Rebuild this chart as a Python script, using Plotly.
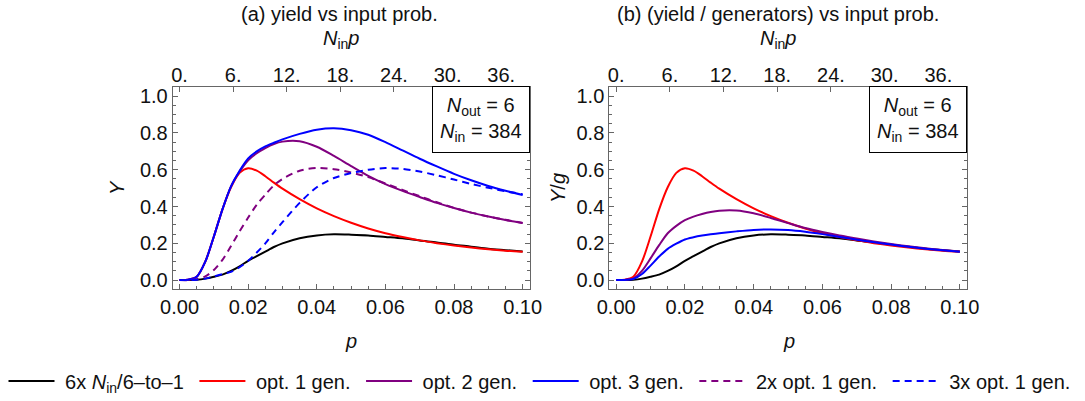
import plotly.graph_objects as go

# ---------------- data ----------------
N_IN = 384
p_vals = [0, 0.0025, 0.005, 0.0075, 0.01, 0.0125, 0.015, 0.0175, 0.02, 0.0225,
          0.025, 0.0275, 0.03, 0.035, 0.04, 0.045, 0.05, 0.055, 0.06, 0.065,
          0.07, 0.075, 0.08, 0.085, 0.09, 0.095, 0.1]

# panel (a): yield Y
y_6x = [0, 0, 0.002, 0.008, 0.018, 0.03, 0.05, 0.075, 0.105, 0.13, 0.155, 0.18, 0.2,
        0.228, 0.243, 0.249, 0.247, 0.243, 0.235, 0.227, 0.215, 0.205, 0.192, 0.182,
        0.171, 0.163, 0.155]
y_opt1 = [0, 0.002, 0.018, 0.10, 0.237, 0.385, 0.505, 0.583, 0.608, 0.595, 0.565, 0.53,
          0.497, 0.44, 0.39, 0.348, 0.312, 0.281, 0.255, 0.234, 0.216, 0.201, 0.188,
          0.177, 0.168, 0.16, 0.154]
y_opt2 = [0, 0.002, 0.018, 0.10, 0.237, 0.385, 0.51, 0.59, 0.652, 0.69, 0.718, 0.74,
          0.753, 0.755, 0.725, 0.675, 0.62, 0.567, 0.522, 0.485, 0.452, 0.42, 0.392,
          0.367, 0.346, 0.327, 0.311]
y_opt3 = [0, 0.002, 0.018, 0.10, 0.237, 0.385, 0.51, 0.595, 0.662, 0.70, 0.727, 0.747,
          0.765, 0.795, 0.818, 0.826, 0.815, 0.79, 0.75, 0.705, 0.66, 0.618, 0.578,
          0.543, 0.512, 0.486, 0.463]
y_2x1 = [0, 0, 0.005, 0.02, 0.055, 0.11, 0.185, 0.265, 0.34, 0.41, 0.465, 0.515, 0.55,
         0.595, 0.61, 0.603, 0.585, 0.56, 0.525, 0.49, 0.456, 0.423, 0.393, 0.367,
         0.346, 0.328, 0.311]
y_3x1 = [0, 0, 0.002, 0.008, 0.02, 0.033, 0.045, 0.07, 0.105, 0.15, 0.2, 0.26, 0.315,
         0.42, 0.505, 0.555, 0.582, 0.60, 0.609, 0.605, 0.59, 0.57, 0.547, 0.523, 0.502,
         0.483, 0.467]

# panel (b): yield per generator Y/g
g_6x = y_6x
g_opt1 = y_opt1
g_opt2 = [0, 0.001, 0.009, 0.05, 0.118, 0.19, 0.255, 0.295, 0.326, 0.345, 0.359, 0.37,
          0.377, 0.378, 0.363, 0.338, 0.31, 0.283, 0.261, 0.242, 0.226, 0.21, 0.196,
          0.184, 0.173, 0.164, 0.156]
g_opt3 = [0, 0.001, 0.006, 0.033, 0.079, 0.128, 0.17, 0.198, 0.221, 0.233, 0.242, 0.249,
          0.255, 0.265, 0.273, 0.275, 0.272, 0.263, 0.25, 0.235, 0.22, 0.206, 0.193,
          0.181, 0.171, 0.162, 0.154]

names = ["6x <i>N</i><sub>in</sub>/6\u2013to\u20131", "opt. 1 gen.", "opt. 2 gen.",
         "opt. 3 gen.", "2x opt. 1 gen.", "3x opt. 1 gen."]
colors = ["#000000", "#ff0000", "#800080", "#0000ff", "#800080", "#0000ff"]
dashes = ["solid", "solid", "solid", "solid", "7px,5px", "7px,5px"]

top_ticks = [0, 6, 12, 18, 24, 30, 36]
top_text = ["0.", "6.", "12.", "18.", "24.", "30.", "36."]

# ---------------- layout helpers ----------------
W, H = 1085, 401
FONT = "Liberation Sans, Arial, sans-serif"
FS = 20
AX = "#666666"
NB = "\u00a0"


def fx(px):
    return px / W


def fy(py):
    return 1 - py / H


fig = go.Figure()

left_series = [y_6x, y_opt1, y_opt2, y_opt3, y_2x1, y_3x1]
for i, ys in enumerate(left_series):
    fig.add_trace(go.Scatter(
        x=p_vals, y=ys, mode="lines", name=NB + names[i] + NB,
        line=dict(color=colors[i], width=2, dash=dashes[i], shape="spline", smoothing=0.8),
        xaxis="x", yaxis="y", showlegend=True))

right_series = [g_6x, g_opt1, g_opt2, g_opt3]
for i, ys in enumerate(right_series):
    fig.add_trace(go.Scatter(
        x=p_vals, y=ys, mode="lines", name=names[i],
        line=dict(color=colors[i], width=2, shape="spline", smoothing=0.8),
        xaxis="x2", yaxis="y2", showlegend=False))

# invisible traces to bind the top axes
fig.add_trace(go.Scatter(x=[top_ticks[0]], y=[None], xaxis="x3", yaxis="y",
                         showlegend=False, hoverinfo="skip"))
fig.add_trace(go.Scatter(x=[top_ticks[0]], y=[None], xaxis="x4", yaxis="y2",
                         showlegend=False, hoverinfo="skip"))

xr = [-0.002, 0.102]
yr = [-0.05, 1.05]
ydom = [fy(289.3), fy(87)]
dom1 = [fx(172.7), fx(529.5)]
dom2 = [fx(609.3), fx(966.7)]

common = dict(showgrid=False, zeroline=False, showline=True, linecolor=AX, linewidth=1,
              ticks="inside", ticklen=5, tickcolor=AX, tickwidth=1,
              tickfont=dict(family=FONT, size=FS, color="#111111"), automargin=False)

xbase = dict(common, range=xr, tick0=0, dtick=0.02, tickformat=".2f", mirror=True,
             minor=dict(ticks="inside", dtick=0.005, tick0=0, ticklen=3, tickcolor=AX))
ybase = dict(common, range=yr, tick0=0, dtick=0.2, tickformat=".1f", mirror="ticks",
             minor=dict(ticks="inside", dtick=0.05, tick0=0, ticklen=3, tickcolor=AX))
topbase = dict(showgrid=False, zeroline=False, showline=False, ticks="inside", ticklen=5,
               tickcolor=AX, tickwidth=1, side="top",
               range=[xr[0] * N_IN, xr[1] * N_IN], tickvals=top_ticks, ticktext=top_text,
               tickfont=dict(family=FONT, size=FS, color="#111111"), automargin=False)

fig.update_layout(
    width=W, height=H,
    margin=dict(l=0, r=0, t=0, b=0),
    paper_bgcolor="white", plot_bgcolor="white",
    font=dict(family=FONT, size=FS, color="#111111"),
    xaxis=dict(xbase, domain=dom1, anchor="y"),
    yaxis=dict(ybase, domain=ydom, anchor="x"),
    xaxis2=dict(xbase, domain=dom2, anchor="y2"),
    yaxis2=dict(ybase, domain=ydom, anchor="x2"),
    xaxis3=dict(topbase, overlaying="x", anchor="y"),
    xaxis4=dict(topbase, overlaying="x2", anchor="y2"),
    legend=dict(orientation="h", x=0.5, xanchor="center", y=fy(381), yanchor="middle",
                font=dict(family=FONT, size=FS, color="#111111"), itemwidth=46,
                bgcolor="rgba(0,0,0,0)"),
    showlegend=True,
)

ann = []


def txt(x, y, s, **kw):
    d = dict(x=fx(x), y=fy(y), xref="paper", yref="paper", text=s, showarrow=False,
             xanchor="center", yanchor="middle",
             font=dict(family=FONT, size=FS, color="#111111"))
    d.update(kw)
    ann.append(d)


txt(339, 14, "(a) yield vs input prob.")
txt(778, 14, "(b) (yield / generators) vs input prob.")
txt(341, 39, "<i>N</i><sub>in</sub><i>p</i>")
txt(778, 39, "<i>N</i><sub>in</sub><i>p</i>")
txt(351, 341, "<i>p</i>")
txt(789, 341, "<i>p</i>")
txt(117, 188, "<i>Y</i>", textangle=-90)
txt(558, 188, "<i>Y</i>/<i>g</i>", textangle=-90)

box = "<i>N</i><sub>out</sub> = 6<br><i>N</i><sub>in</sub> = 384"
for xr_px in (529.5, 966.7):
    ann.append(dict(x=fx(xr_px), y=fy(86), xref="paper", yref="paper", text=box,
                    showarrow=False, xanchor="right", yanchor="top", align="center",
                    bordercolor="#000000", borderwidth=1, borderpad=7, bgcolor="white",
                    font=dict(family=FONT, size=FS, color="#111111")))

fig.update_layout(annotations=ann)
fig.write_html("out.html")
